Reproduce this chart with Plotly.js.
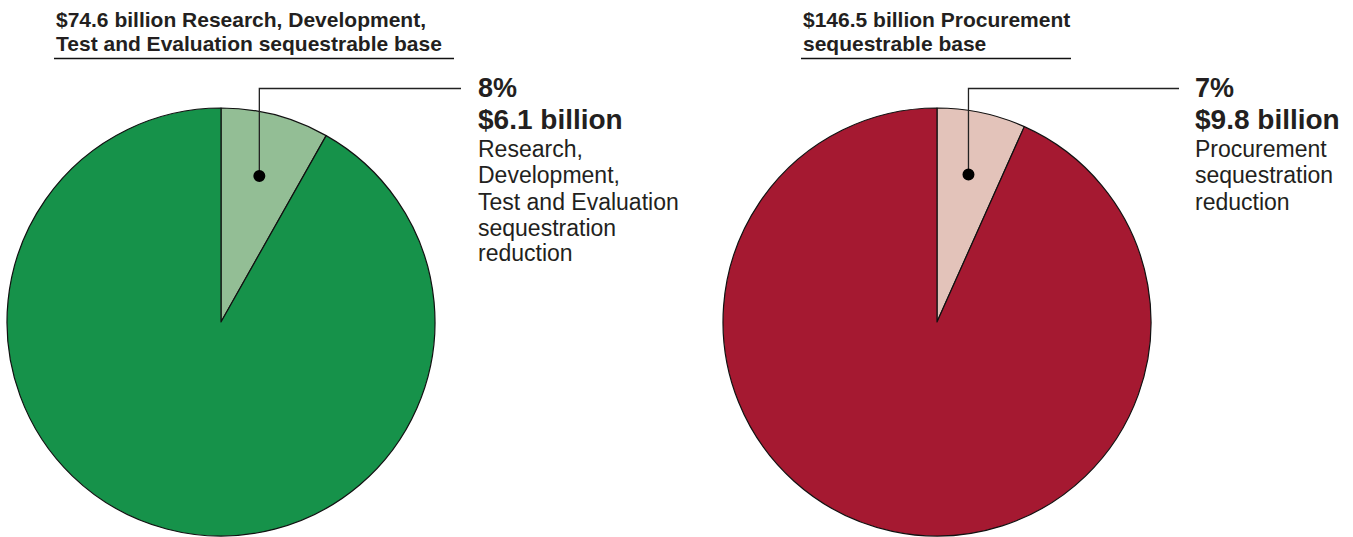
<!DOCTYPE html>
<html>
<head>
<meta charset="utf-8">
<script src="https://cdn.plot.ly/plotly-3.0.1.min.js"></script>
<style>
  html, body { margin: 0; padding: 0; background: #fff; }
  #chart { width: 1353px; height: 537px; }
</style>
</head>
<body>
<div id="chart"></div>
<script>
// ---- Data ----
const sliceLabels = ['Sequestration reduction', 'Remaining sequestrable base'];
const rdteValues = [6.1, 68.5];        // $ billions (total 74.6)
const procValues = [9.8, 136.7];       // $ billions (total 146.5)
const rdteTitle = ['$74.6 billion Research, Development,', 'Test and Evaluation sequestrable base'];
const procTitle = ['$146.5 billion Procurement', 'sequestrable base'];
const rdtePercent = '8%';
const procPercent = '7%';
const rdteAmount = '$6.1 billion';
const procAmount = '$9.8 billion';
const rdteDesc = ['Research,', 'Development,', 'Test and Evaluation', 'sequestration', 'reduction'];
const procDesc = ['Procurement', 'sequestration', 'reduction'];
const rdteColors = ['#93BE95', '#16924A'];
const procColors = ['#E3C3BA', '#A51931'];

// ---- Layout helpers ----
const W = 1353, H = 537;
const FONT = 'Liberation Sans, Arial, Helvetica, sans-serif';
const TXT = '#231F20';
const px = x => x / W;
const py = y => 1 - y / H;

const R = 214;
const pies = [
  { cx: 221, cy: 322, values: rdteValues, colors: rdteColors, title: rdteTitle, titleX: 55, ulX: [54, 454],
    pct: rdtePercent, amt: rdteAmount, desc: rdteDesc, lineEnd: 461, textX: 476 },
  { cx: 937, cy: 322, values: procValues, colors: procColors, title: procTitle, titleX: 802, ulX: [801, 1071],
    pct: procPercent, amt: procAmount, desc: procDesc, lineEnd: 1179, textX: 1193 }
];

const traces = [];
const shapes = [];
const annotations = [];

pies.forEach(p => {
  traces.push({
    type: 'pie',
    labels: sliceLabels,
    values: p.values,
    sort: false,
    direction: 'clockwise',
    rotation: 0,
    textinfo: 'none',
    hoverinfo: 'none',
    showlegend: false,
    marker: { colors: p.colors, line: { color: '#111', width: 1.2 } },
    domain: { x: [px(p.cx - R), px(p.cx + R)], y: [py(p.cy + R), py(p.cy - R)] }
  });

  // Title lines
  const titleBaselines = [26.5, 50.5];
  p.title.forEach((t, i) => {
    annotations.push({
      text: t, xref: 'paper', yref: 'paper', x: px(p.titleX - 1), y: py(titleBaselines[i] - 0.3465 * 21),
      xanchor: 'left', yanchor: 'middle', showarrow: false,
      font: { family: FONT, size: 21, color: TXT, weight: 'bold' }
    });
  });
  shapes.push({ type: 'line', xref: 'paper', yref: 'paper',
    x0: px(p.ulX[0]), x1: px(p.ulX[1]), y0: py(58.5), y1: py(58.5),
    line: { color: '#111', width: 1.5 } });

  // Callout dot at middle of the small slice
  const total = p.values.reduce((a, b) => a + b, 0);
  const ang = Math.PI * p.values[0] / total;
  const dx = p.cx + 0.705 * R * Math.sin(ang);
  const dy = p.cy - 0.705 * R * Math.cos(ang);
  shapes.push({ type: 'path', xref: 'paper', yref: 'paper',
    path: `M${px(dx)},${py(dy)} L${px(dx)},${py(88.5)} L${px(p.lineEnd)},${py(88.5)}`,
    line: { color: '#222', width: 1.3 } });
  shapes.push({ type: 'circle', xref: 'paper', yref: 'paper',
    x0: px(dx - 6), x1: px(dx + 6), y0: py(dy + 6), y1: py(dy - 6),
    fillcolor: '#000', line: { color: '#000', width: 0 } });

  // Callout text
  annotations.push({
    text: p.pct, xref: 'paper', yref: 'paper', x: px(p.textX), y: py(97.3 - 0.3465 * 27),
    xanchor: 'left', yanchor: 'middle', showarrow: false,
    font: { family: FONT, size: 27, color: TXT, weight: 'bold' }
  });
  annotations.push({
    text: p.amt, xref: 'paper', yref: 'paper', x: px(p.textX), y: py(129.3 - 0.3465 * 28),
    xanchor: 'left', yanchor: 'middle', showarrow: false,
    font: { family: FONT, size: 28, color: TXT, weight: 'bold' }
  });
  const descBaselines = [157, 183, 209.5, 235.5, 261];
  p.desc.forEach((t, i) => {
    annotations.push({
      text: t, xref: 'paper', yref: 'paper', x: px(p.textX), y: py(descBaselines[i] - 0.3465 * 23),
      xanchor: 'left', yanchor: 'middle', showarrow: false,
      font: { family: FONT, size: 23, color: TXT }
    });
  });
});

const layout = {
  width: W, height: H,
  margin: { l: 0, r: 0, t: 0, b: 0, pad: 0 },
  paper_bgcolor: '#ffffff', plot_bgcolor: '#ffffff',
  showlegend: false,
  font: { family: FONT, color: TXT },
  shapes: shapes,
  annotations: annotations
};

Plotly.newPlot('chart', traces, layout, { staticPlot: true, displayModeBar: false });
</script>
</body>
</html>
